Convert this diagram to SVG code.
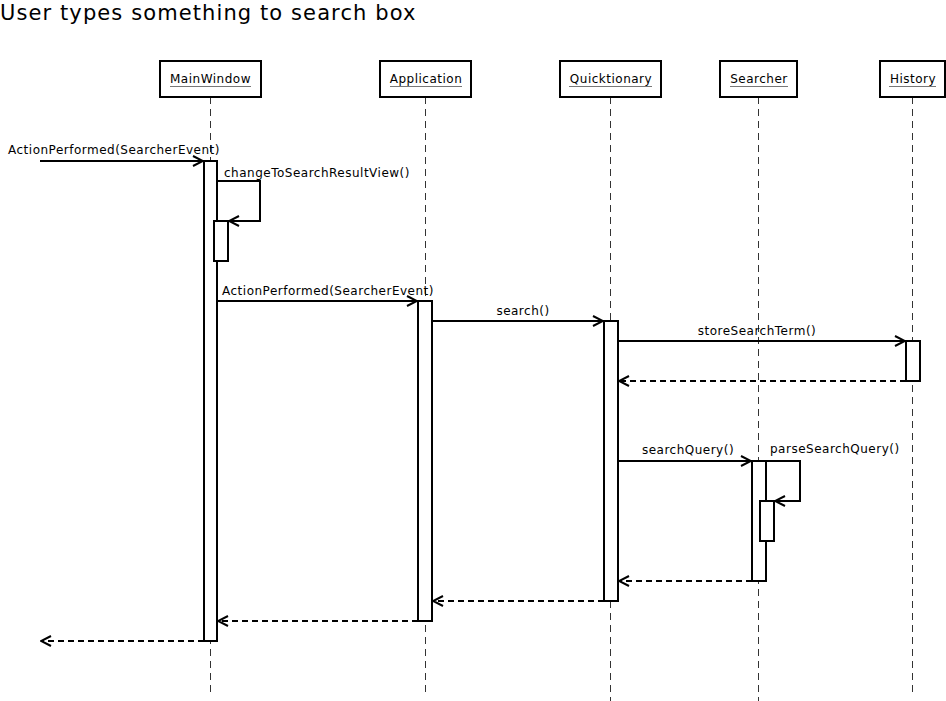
<svg xmlns="http://www.w3.org/2000/svg" width="946" height="701" viewBox="0 0 946 701">
<defs>
<style>
text{font-family:"DejaVu Sans",Verdana,sans-serif;fill:#000}
.title{font-size:21px;letter-spacing:1.1px}
.lbl{font-size:12px;letter-spacing:0.5px}
.nm{font-size:12px;letter-spacing:0.5px;text-anchor:middle}
.box{fill:#fff;stroke:#000;stroke-width:2}
.ul{stroke:#777;stroke-width:1}
.life{stroke:#333;stroke-width:1;stroke-dasharray:7 5;fill:none}
.act{fill:#fff;stroke:#000;stroke-width:2}
.msg{stroke:#000;stroke-width:2;fill:none}
.ret{stroke:#000;stroke-width:2;fill:none;stroke-dasharray:6 4}
</style>
<marker id="open" viewBox="0 0 12 12" refX="11" refY="6" markerWidth="12" markerHeight="12" markerUnits="userSpaceOnUse" orient="auto">
<path d="M1,1 L11,6 L1,11" fill="none" stroke="#000" stroke-width="2"/>
</marker>
</defs>
<rect width="946" height="701" fill="#fff"/>
<text class="title" x="0" y="20">User types something to search box</text>

<g id="lifelines">
<line class="life" x1="210.5" y1="97" x2="210.5" y2="697"/>
<line class="life" x1="425.5" y1="97" x2="425.5" y2="697"/>
<line class="life" x1="610.5" y1="97" x2="610.5" y2="701"/>
<line class="life" x1="758.5" y1="97" x2="758.5" y2="701"/>
<line class="life" x1="912.5" y1="97" x2="912.5" y2="697"/>
</g>

<g id="MainWindow">
<rect class="box" x="160" y="61" width="101" height="36"/>
<text class="nm" x="210.5" y="83">MainWindow</text>
<line class="ul" x1="170" y1="86.5" x2="251" y2="86.5"/>
<rect class="act" x="204" y="161" width="13" height="480"/>
<rect class="act" x="214" y="221" width="14" height="40"/>
</g>
<g id="Application">
<rect class="box" x="380" y="61" width="91" height="36"/>
<text class="nm" x="426" y="83">Application</text>
<line class="ul" x1="390" y1="86.5" x2="462" y2="86.5"/>
<rect class="act" x="418" y="301" width="14" height="320"/>
</g>
<g id="Quicktionary">
<rect class="box" x="560" y="61" width="101" height="36"/>
<text class="nm" x="611" y="83">Quicktionary</text>
<line class="ul" x1="569" y1="86.5" x2="652" y2="86.5"/>
<rect class="act" x="604" y="321" width="14" height="280"/>
</g>
<g id="Searcher">
<rect class="box" x="720" y="61" width="77" height="36"/>
<text class="nm" x="759" y="83">Searcher</text>
<line class="ul" x1="730" y1="86.5" x2="788" y2="86.5"/>
<rect class="act" x="752" y="461" width="14" height="120"/>
<rect class="act" x="760" y="501" width="14" height="40"/>
</g>
<g id="History">
<rect class="box" x="880" y="61" width="65" height="36"/>
<text class="nm" x="913" y="83">History</text>
<line class="ul" x1="889" y1="86.5" x2="936" y2="86.5"/>
<rect class="act" x="906" y="341" width="14" height="40"/>
</g>

<g id="connectors">
<line class="msg" x1="40" y1="161" x2="203" y2="161" marker-end="url(#open)"/>
<text class="lbl" x="8" y="154">ActionPerformed(SearcherEvent)</text>
<polyline class="msg" points="217,181 260,181 260,221 229,221" marker-end="url(#open)"/>
<text class="lbl" x="224" y="177">changeToSearchResultView()</text>
<line class="msg" x1="217" y1="301" x2="417" y2="301" marker-end="url(#open)"/>
<text class="lbl" x="222" y="295">ActionPerformed(SearcherEvent)</text>
<line class="msg" x1="432" y1="321" x2="603" y2="321" marker-end="url(#open)"/>
<text class="lbl" x="523" y="315" text-anchor="middle">search()</text>
<line class="msg" x1="618" y1="341" x2="905" y2="341" marker-end="url(#open)"/>
<text class="lbl" x="757" y="335" text-anchor="middle">storeSearchTerm()</text>
<line class="ret" x1="906" y1="381" x2="619" y2="381" marker-end="url(#open)"/>
<line class="msg" x1="618" y1="461" x2="751" y2="461" marker-end="url(#open)"/>
<text class="lbl" x="688" y="454" text-anchor="middle">searchQuery()</text>
<polyline class="msg" points="766,461 800,461 800,501 775,501" marker-end="url(#open)"/>
<text class="lbl" x="770" y="453">parseSearchQuery()</text>
<line class="ret" x1="752" y1="581" x2="619" y2="581" marker-end="url(#open)"/>
<line class="ret" x1="604" y1="601" x2="433" y2="601" marker-end="url(#open)"/>
<line class="ret" x1="418" y1="621" x2="218" y2="621" marker-end="url(#open)"/>
<line class="ret" x1="204" y1="641" x2="41" y2="641" marker-end="url(#open)"/>
</g>
</svg>
